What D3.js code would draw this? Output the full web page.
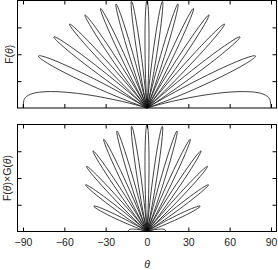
<html>
<head>
<meta charset="utf-8">
<script src="https://d3js.org/d3.v7.min.js"></script>
<style>
body { margin: 0; background: #fff; }
text { font-family: "Liberation Sans", Arial, sans-serif; fill: #222; }
</style>
</head>
<body>
<svg width="278" height="270"></svg>
<script>
// lobe tips along the theta axis (one every 11.25)
var lobeCenters = [-90, -78.75, -67.5, -56.25, -45, -33.75, -22.5, -11.25, 0,
  11.25, 22.5, 33.75, 45, 56.25, 67.5, 78.75, 90];
// lobe heights, upper panel F(theta)
var fPeaks = [1, 1, 1, 1, 1, 1, 1, 1, 1, 1, 1, 1, 1, 1, 1, 1, 1];
// lobe heights, lower panel F(theta) x G(theta)
var fgPeaks = [0.15, 0.49, 0.66, 0.78, 0.87, 0.93, 0.97, 0.99, 1,
  0.99, 0.97, 0.93, 0.87, 0.78, 0.66, 0.49, 0.15];
// lobe outline: relative radius against offset from the lobe centre (1 = null)
var profileOffset = [0, 0.05, 0.1, 0.15, 0.2, 0.25, 0.3, 0.35, 0.4, 0.45, 0.5,
  0.55, 0.6, 0.65, 0.7, 0.75, 0.8, 0.85, 0.9, 0.95, 1];
var profileValue = [1, 0.994, 0.976, 0.946, 0.905, 0.854, 0.794, 0.727, 0.655, 0.578, 0.5,
  0.422, 0.345, 0.273, 0.206, 0.146, 0.095, 0.055, 0.024, 0.006, 0];
var xTicks = [-90, -60, -30, 0, 30, 60, 90];
var yTicks = [0.25, 0.5, 0.75];

var LOBE_HALF = 5.625;   // lobe half width, theta units

var svg = d3.select("svg");

var x = d3.scaleLinear()
  .domain([-94, 94])
  .range([17.5, 276.5]);

// points of one lobe, in (theta, value) units
function lobePoints(c, peak) {
  var pts = [];
  var n = profileOffset.length;
  for (var i = n - 1; i > -n; i--) {
    var k = Math.abs(i);
    var t = (i < 0 ? 1 : -1) * profileOffset[k];
    if (i == 0) t = 0;
    var a = c + t * LOBE_HALF;
    if (Math.abs(a) > 90) continue;
    var r = peak * profileValue[k];
    var s = a / 90;
    pts.push([r * a, r * Math.sqrt(1 - s * s)]);
  }
  return pts;
}

function drawPanel(top, height, peaks, label, labelX, showLabels) {
  var y = d3.scaleLinear()
    .domain([0, 1])
    .range([top + height, top]);

  var g = svg.append("g");

  var line = d3.line()
    .x(function(d) { return x(d[0]); })
    .y(function(d) { return y(d[1]); })
    .curve(d3.curveCatmullRom);

  g.selectAll("path.lobe")
    .data(lobeCenters)
    .enter()
    .append("path")
    .attr("class", "lobe")
    .attr("d", function(c, i) { return line(lobePoints(c, peaks[i])); })
    .attr("fill", "none")
    .attr("stroke", "#111")
    .attr("stroke-width", 0.8);

  // inward ticks on all four sides
  var bottom = g.append("g")
    .attr("transform", "translate(0," + (top + height) + ")")
    .call(d3.axisBottom(x).tickValues(xTicks).tickSizeInner(-4).tickSizeOuter(0)
      .tickPadding(7.5).tickFormat(showLabels ? d3.format("d") : ""));
  g.append("g")
    .attr("transform", "translate(0," + top + ")")
    .call(d3.axisTop(x).tickValues(xTicks).tickSizeInner(-4).tickSizeOuter(0).tickFormat(""));
  g.append("g")
    .attr("transform", "translate(" + x.range()[0] + ",0)")
    .call(d3.axisLeft(y).tickValues(yTicks).tickSizeInner(-4).tickSizeOuter(0).tickFormat(""));
  g.append("g")
    .attr("transform", "translate(" + x.range()[1] + ",0)")
    .call(d3.axisRight(y).tickValues(yTicks).tickSizeInner(-4).tickSizeOuter(0).tickFormat(""));

  g.selectAll(".domain").remove();
  g.selectAll(".tick line").attr("stroke", "#000");
  bottom.selectAll("text")
    .style("font-family", "'Liberation Sans', Arial, sans-serif")
    .style("font-size", "10.5px")
    .attr("fill", "#222");

  g.append("rect")
    .attr("x", x.range()[0])
    .attr("y", top)
    .attr("width", x.range()[1] - x.range()[0])
    .attr("height", height)
    .attr("fill", "none")
    .attr("stroke", "#000")
    .attr("stroke-width", 1);

  // rotated y label
  var t = g.append("text")
    .attr("transform", "translate(" + labelX + "," + (top + height / 2) + ") rotate(-90)")
    .style("text-anchor", "middle")
    .style("font-size", "10.5px");
  label.forEach(function(part) {
    t.append("tspan")
      .style("font-style", part[1] ? "italic" : "normal")
      .text(part[0]);
  });
}

drawPanel(0.5, 107.5, fPeaks,
  [["F(", 0], ["\u03b8", 1], [")", 0]], 12.5, false);
drawPanel(124.5, 107, fgPeaks,
  [["F(", 0], ["\u03b8", 1], [")\u00d7G(", 0], ["\u03b8", 1], [")", 0]], 11, true);

svg.append("text")
  .attr("x", x(0))
  .attr("y", 268)
  .style("text-anchor", "middle")
  .style("font-size", "10.5px")
  .style("font-style", "italic")
  .text("\u03b8");
</script>
</body>
</html>
